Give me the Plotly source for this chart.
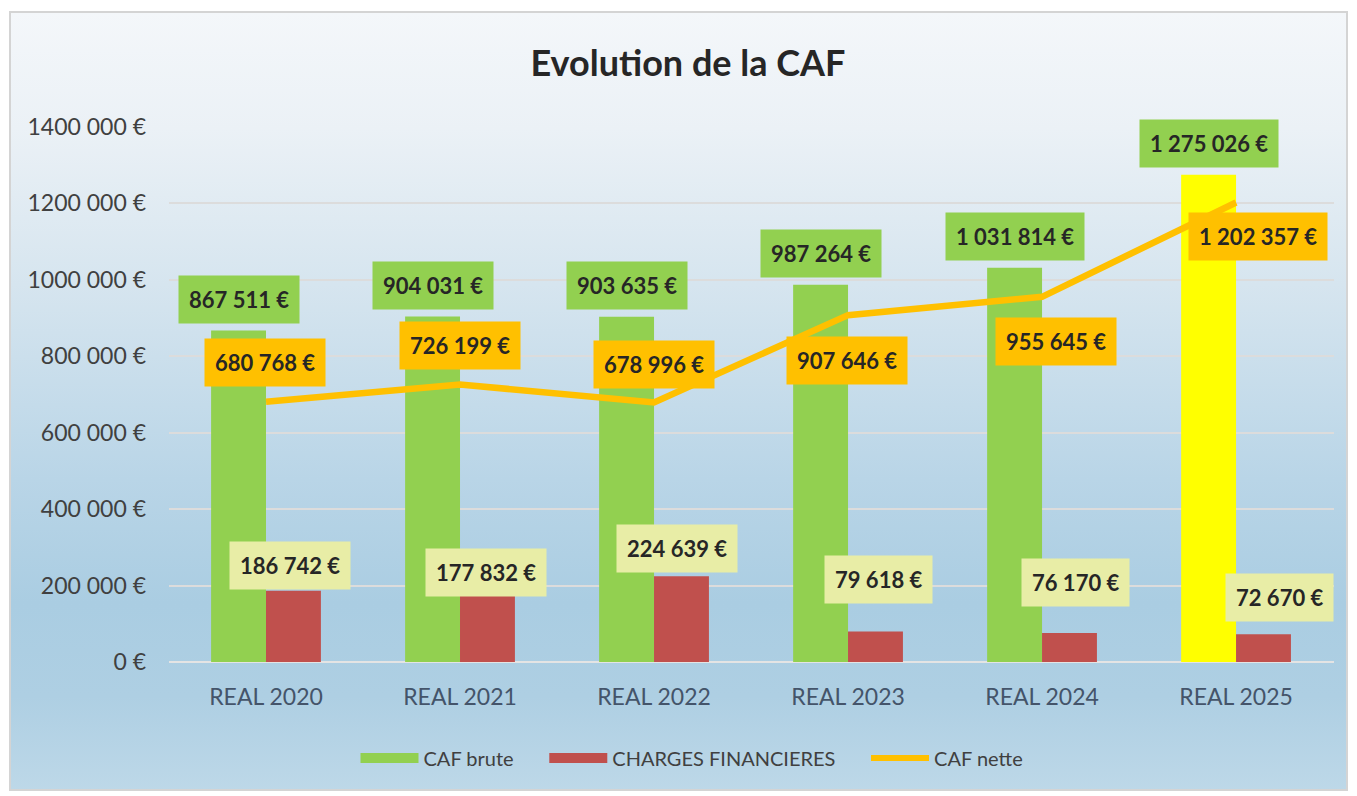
import base64
import plotly.graph_objects as go

# ---------------- data ----------------
categories = ["REAL 2020", "REAL 2021", "REAL 2022", "REAL 2023", "REAL 2024", "REAL 2025"]
caf_brute = [867511, 904031, 903635, 987264, 1031814, 1275026]
charges_financieres = [186742, 177832, 224639, 79618, 76170, 72670]
caf_nette = [680768, 726199, 678996, 907646, 955645, 1202357]
y_tick_values = [0, 200000, 400000, 600000, 800000, 1000000, 1200000, 1400000]
y_tick_labels = ["0 €", "200 000 €", "400 000 €", "600 000 €", "800 000 €",
                 "1000 000 €", "1200 000 €", "1400 000 €"]

# ---------------- style ----------------
FONT = "Lato"
GREEN = "#92D050"
YELLOW = "#FFFF00"
RED = "#C0504D"
ORANGE = "#FFC000"
LIGHT_LABEL = "#E8EDA6"
TEXT_DARK = "#262626"
BARGAP = 0.434
LEGEND_PAD = "\u00a0" * 5

OFF = 8  # page body margin
W, H = 1357 - OFF, 796 - OFF
ML = 169 - OFF
MT = 127 - OFF
MR = W - (1334 - OFF)
MB = H - (662 - OFF)
PW, PH = W - ML - MR, H - MT - MB

# label offsets in pixels (dx, dy up positive)
brute_shift = [(0, 31), (0, 31), (0, 31), (0, 31), (0, 31), (0, 31)]
nette_shift = [(-1, 39), (0, 39), (0, 38), (-1, -45), (14, -45), (22, -34)]
charges_shift = [(-3, 25), (-1, 22), (-4, 28), (3, 52), (6, 50), (16, 37)]


def fmt(v):
    return f"{v:,}".replace(",", " ") + " €"


brute_colors = [GREEN] * (len(categories) - 1) + [YELLOW]

fig = go.Figure()
fig.add_trace(go.Bar(x=categories, y=caf_brute, name="CAF brute", showlegend=False,
                     marker=dict(color=brute_colors, line=dict(width=0))))
fig.add_trace(go.Bar(x=categories, y=charges_financieres, name="CHARGES FINANCIERES",
                     showlegend=False, marker=dict(color=RED, line=dict(width=0))))
fig.add_trace(go.Scatter(x=categories, y=caf_nette, name="CAF nette", mode="lines",
                         showlegend=False, line=dict(color=ORANGE, width=6.5)))
# legend entries (bars are shown as wide flat rectangles in the reference)
fig.add_trace(go.Scatter(x=[categories[0]], y=[None], name="CAF brute" + LEGEND_PAD, mode="lines",
                         line=dict(color=GREEN, width=10)))
fig.add_trace(go.Scatter(x=[categories[0]], y=[None], name="CHARGES FINANCIERES" + LEGEND_PAD,
                         mode="lines", line=dict(color=RED, width=10)))
fig.add_trace(go.Scatter(x=[categories[0]], y=[None], name="CAF nette", mode="lines",
                         line=dict(color=ORANGE, width=6)))

half = (1 - BARGAP) / 4.0
annotations = []


def add_label(xpos, yval, shift, bg):
    annotations.append(dict(
        x=xpos, y=yval, xref="x", yref="y", text=fmt(yval), showarrow=False,
        xshift=shift[0], yshift=shift[1], xanchor="center", yanchor="middle",
        bgcolor=bg, borderpad=10,
        font=dict(family=FONT, size=22, color=TEXT_DARK, weight="bold")))


for i in range(len(categories)):
    add_label(i - half, caf_brute[i], brute_shift[i], GREEN)
    add_label(i + half, charges_financieres[i], charges_shift[i], LIGHT_LABEL)
    add_label(i, caf_nette[i], nette_shift[i], ORANGE)

# gradient background as svg image
svg = """<svg xmlns='http://www.w3.org/2000/svg' width='100' height='100' preserveAspectRatio='none'>
<defs><linearGradient id='g' x1='0' y1='0' x2='0' y2='1'>
<stop offset='0' stop-color='#F4F7FA'/>
<stop offset='0.15' stop-color='#EBF1F6'/>
<stop offset='0.35' stop-color='#D6E5EF'/>
<stop offset='0.6' stop-color='#B9D5E7'/>
<stop offset='0.76' stop-color='#AACDE2'/>
<stop offset='0.88' stop-color='#AECFE3'/>
<stop offset='1' stop-color='#BDD8E8'/>
</linearGradient></defs>
<rect x='0' y='0' width='100' height='100' fill='url(#g)'/></svg>"""
src = "data:image/svg+xml;base64," + base64.b64encode(svg.encode()).decode()


def px_to_paper_x(px):
    return (px - OFF - ML) / PW


def px_to_paper_y(py):
    return (H - MB - (py - OFF)) / PH


fx0, fx1, fy0, fy1 = 10, 1347, 12, 790
fig.add_layout_image(dict(
    source=src, xref="paper", yref="paper",
    x=px_to_paper_x(fx0), y=px_to_paper_y(fy0),
    sizex=px_to_paper_x(fx1) - px_to_paper_x(fx0),
    sizey=px_to_paper_y(fy0) - px_to_paper_y(fy1),
    xanchor="left", yanchor="top", sizing="stretch", layer="below"))
fig.add_shape(type="rect", xref="paper", yref="paper",
              x0=px_to_paper_x(fx0), x1=px_to_paper_x(fx1),
              y0=px_to_paper_y(fy1), y1=px_to_paper_y(fy0),
              line=dict(color="#D4D4D4", width=2), fillcolor="rgba(0,0,0,0)", layer="below")

fig.update_layout(
    width=W, height=H,
    margin=dict(l=ML, r=MR, t=MT, b=MB, pad=0),
    paper_bgcolor="white", plot_bgcolor="rgba(0,0,0,0)",
    barmode="group", bargap=BARGAP, bargroupgap=0,
    title=dict(text="Evolution de la CAF", x=(688 - OFF) / W, xref="container", xanchor="center",
               y=1 - (63 - OFF) / H, yref="container", yanchor="middle",
               font=dict(family=FONT, size=36, color="#262626", weight="bold")),
    font=dict(family=FONT),
    annotations=annotations,
    showlegend=True,
    legend=dict(orientation="h", xref="container", x=(692 - OFF) / W, xanchor="center",
                yref="container", y=1 - (758 - OFF) / H, yanchor="middle",
                font=dict(family=FONT, size=20, color="#404040"),
                bgcolor="rgba(0,0,0,0)", itemwidth=58, traceorder="normal"),
    xaxis=dict(type="category", showgrid=False, showline=False, zeroline=False,
               ticks="", tickfont=dict(family=FONT, size=23, color="#44546A"),
               ticklabelstandoff=19),
    yaxis=dict(range=[0, 1400000], tickvals=y_tick_values, ticktext=y_tick_labels,
               showgrid=True, gridcolor="#DCDCDC", gridwidth=2,
               zeroline=True, zerolinecolor="#E4E4E4", zerolinewidth=2,
               showline=False, ticks="",
               tickfont=dict(family=FONT, size=23, color="#404040"),
               ticklabelstandoff=22),
)

fig.write_html("out.html")
